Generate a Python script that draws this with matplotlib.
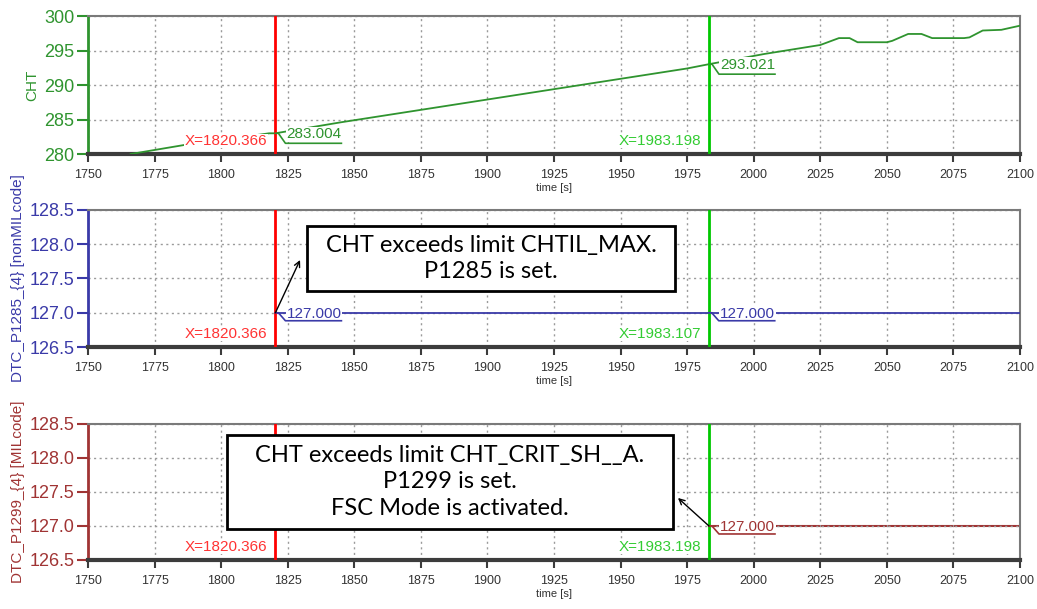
import numpy as np
import matplotlib
matplotlib.use("Agg")
import matplotlib.pyplot as plt
import matplotlib.transforms as mtransforms
from matplotlib.patches import Rectangle

plt.rcParams['font.family'] = ['Liberation Sans', 'DejaVu Sans']

# CHT trace
cht_time = [1766, 1786, 1818, 1820.366, 1845, 1850, 1875, 1900, 1925, 1950, 1975,
            1983.198, 2004, 2025, 2032, 2036, 2039, 2050, 2052, 2058, 2063, 2067,
            2079, 2081, 2086, 2093, 2100]
cht_val = [280.0, 281.3, 283.0, 283.004, 284.6, 284.9, 286.4, 287.9, 289.4, 290.9, 292.4,
           293.021, 294.5, 295.8, 296.8, 296.8, 296.2, 296.2, 296.4, 297.4, 297.4, 296.8,
           296.8, 296.9, 297.9, 298.0, 298.6]

# DTC flags
p1285_time = [1820.366, 2100]
p1285_val = [127.0, 127.0]
p1299_time = [1983.198, 2100]
p1299_val = [127.0, 127.0]

# cursor positions per panel
cursor_red = [1820.366, 1820.366, 1820.366]
cursor_green = [1983.198, 1983.107, 1983.198]

x_ticks = list(range(1750, 2101, 25))
cht_ticks = [280, 285, 290, 295, 300]
dtc_ticks = [126.5, 127.0, 127.5, 128.0, 128.5]

note_p1285 = "CHT exceeds limit CHTIL_MAX.\nP1285 is set."
note_p1299 = "CHT exceeds limit CHT_CRIT_SH__A.\nP1299 is set.\nFSC Mode is activated."

GREEN = '#2f942f'
BLUE = '#3a3aa8'
BROWN = '#a03434'
RED_CUR = '#ff0000'
GREEN_CUR = '#00c800'
PX = 1 / 100  # one pixel in inches

fig = plt.figure(figsize=(10.37, 6.09), dpi=100)
ax1 = fig.add_axes([0.0849, 0.7471, 0.8987, 0.2266])
ax2 = fig.add_axes([0.0849, 0.4302, 0.8987, 0.2250])
ax3 = fig.add_axes([0.0849, 0.0805, 0.8987, 0.2233])


def style_axis(ax, color, ylabel, yticks, ylim, fmt):
    ax.set_xlim(1750, 2100)
    ax.set_ylim(*ylim)
    ax.set_xticks(x_ticks)
    ax.set_yticks(yticks)
    ax.set_yticklabels([fmt.format(v) for v in yticks])
    ax.grid(True, color='#9a9a9a', linestyle=(0, (1.5, 2.5)), lw=1)
    for s in ['top', 'right']:
        ax.spines[s].set_color('#7a7a7a')
        ax.spines[s].set_linewidth(1.5)
    ax.spines['bottom'].set_color('#3c3c3c')
    ax.spines['bottom'].set_linewidth(3)
    ax.spines['left'].set_color(color)
    ax.spines['left'].set_linewidth(2)
    ax.tick_params(axis='x', direction='out', length=6, width=1.5, color='#3c3c3c',
                   labelsize=9, labelcolor='#333333', pad=5)
    ax.tick_params(axis='y', direction='out', length=8, width=1.5, color=color,
                   labelsize=13, labelcolor=color, pad=2)
    ax.set_xlabel('time [s]', fontsize=8, color='#333333', labelpad=1)
    ax.set_ylabel(ylabel, fontsize=11, color=color, labelpad=3)


def cursor_x_label(ax, x, text, color):
    ax.annotate(text, xy=(x, 0), xycoords=('data', 'axes fraction'),
                xytext=(-8 * 0.72, 13 * 0.72), textcoords='offset points',
                ha='right', va='center', fontsize=11, color=color, zorder=5,
                bbox=dict(fc='white', ec='none', pad=0.3))


def cursor_value(ax, x, y, text, color, drop=10):
    tr = fig.dpi_scale_trans + mtransforms.ScaledTranslation(x, y, ax.transData)
    ax.plot(np.array([0, 3, 10, 66]) * PX, np.array([0, 0, -drop, -drop]) * PX,
            color=color, lw=1.2, transform=tr, clip_on=False, zorder=7)
    ax.text(11 * PX, -1 * PX, text, transform=tr, color=color, fontsize=11,
            ha='left', va='center', zorder=6,
            bbox=dict(fc='white', ec='none', pad=0.5))


def note_box(ax, x0, y0, x1, y1, text):
    ax.add_patch(Rectangle((x0, y0), x1 - x0, y1 - y0, transform=ax.transAxes,
                           fc='white', ec='black', lw=2, zorder=8, clip_on=False))
    ax.text((x0 + x1) / 2, (y0 + y1) / 2, text, transform=ax.transAxes,
            ha='center', va='center', multialignment='center', fontsize=17,
            family=['Lato', 'DejaVu Sans'], linespacing=1.3, zorder=9)


# panel 1: CHT
ax1.plot(cht_time, cht_val, color=GREEN, lw=1.3, zorder=3)
style_axis(ax1, GREEN, 'CHT', cht_ticks, (280, 300), '{:.0f}')

# panel 2: DTC_P1285
ax2.plot(p1285_time, p1285_val, color=BLUE, lw=1.3, zorder=3)
style_axis(ax2, BLUE, 'DTC_P1285_{4} [nonMILcode]', dtc_ticks, (126.5, 128.5), '{:.1f}')

# panel 3: DTC_P1299
ax3.plot(p1299_time, p1299_val, color=BROWN, lw=1.5, zorder=1)
style_axis(ax3, BROWN, 'DTC_P1299_{4} [MILcode]', dtc_ticks, (126.5, 128.5), '{:.1f}')

for i, ax in enumerate([ax1, ax2, ax3]):
    ax.axvline(cursor_red[i], color=RED_CUR, lw=2, zorder=4)
    ax.axvline(cursor_green[i], color=GREEN_CUR, lw=2, zorder=4)
    cursor_x_label(ax, cursor_red[i], 'X={:.3f}'.format(cursor_red[i]), '#ff3333')
    cursor_x_label(ax, cursor_green[i], 'X={:.3f}'.format(cursor_green[i]), '#33cc33')

cursor_value(ax1, cht_time[3], cht_val[3], '{:.3f}'.format(cht_val[3]), GREEN)
cursor_value(ax1, cht_time[11], cht_val[11], '{:.3f}'.format(cht_val[11]), GREEN)
cursor_value(ax2, p1285_time[0], p1285_val[0], '{:.3f}'.format(p1285_val[0]), BLUE, drop=8)
cursor_value(ax2, cursor_green[1], p1285_val[0], '{:.3f}'.format(p1285_val[0]), BLUE, drop=8)
cursor_value(ax3, p1299_time[0], p1299_val[0], '{:.3f}'.format(p1299_val[0]), BROWN, drop=8)

# notes with arrows
note_box(ax2, 0.235, 0.409, 0.630, 0.883, note_p1285)
ax2.annotate('', xy=(0.2275, 0.635), xycoords='axes fraction',
             xytext=(p1285_time[0], p1285_val[0]), textcoords='data',
             arrowprops=dict(arrowstyle='->', color='black', lw=1, shrinkA=0, shrinkB=0),
             zorder=9)
note_box(ax3, 0.149, 0.228, 0.628, 0.919, note_p1299)
ax3.annotate('', xy=(0.633, 0.456), xycoords='axes fraction',
             xytext=(p1299_time[0], p1299_val[0]), textcoords='data',
             arrowprops=dict(arrowstyle='->', color='black', lw=1, shrinkA=0, shrinkB=0),
             zorder=9)

for ax, lim in [(ax1, (280, 300)), (ax2, (126.5, 128.5)), (ax3, (126.5, 128.5))]:
    ax.set_xlim(1750, 2100)
    ax.set_ylim(*lim)

fig.savefig('out.png', dpi=100)
